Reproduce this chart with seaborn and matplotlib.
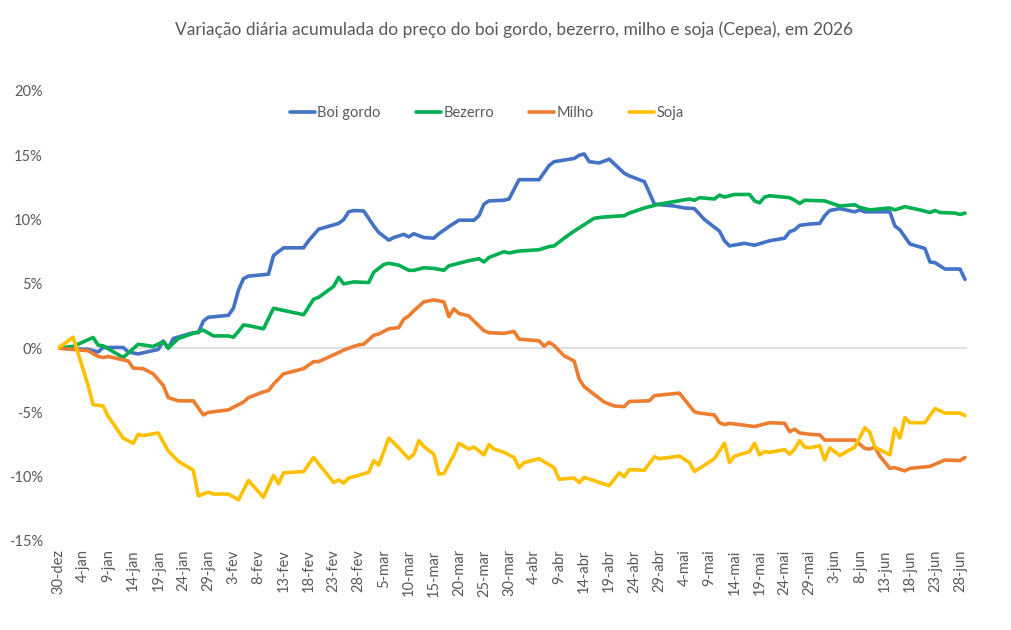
import datetime as dt

import matplotlib.pyplot as plt
import pandas as pd
import seaborn as sns

# dias contados a partir de 30-dez e variação acumulada (%)
boi_dias = [0, 6, 8, 9, 13, 14, 16, 20, 21, 22, 23, 27, 28, 29, 30, 34, 35, 36, 37, 38,
            42, 43, 45, 49, 50, 52, 56, 57, 58, 59, 61, 63, 64, 66, 67, 69, 70, 71, 73, 75,
            76, 78, 80, 83, 84, 85, 86, 89, 90, 92, 96, 98, 99, 103, 104, 105, 106, 108, 110, 113,
            114, 117, 118, 119, 123, 125, 127, 129, 131, 132, 133, 134, 137, 139, 142, 145, 146, 147, 148, 150,
            152, 153, 154, 156, 159, 160, 161, 166, 167, 168, 170, 173, 174, 175, 177, 180, 181]
boi_vals = [0, -0.1, -0.3, 0.05, 0.05, -0.3, -0.45, -0.1, 0.55, 0, 0.75, 1.2, 1.2, 2.1, 2.4, 2.55, 3.1, 4.5, 5.4, 5.6,
            5.75, 7.2, 7.8, 7.8, 8.35, 9.25, 9.7, 10.0, 10.6, 10.7, 10.67, 9.5, 9.0, 8.4, 8.6, 8.85, 8.65, 8.9, 8.6, 8.55,
            8.9, 9.45, 9.95, 9.95, 10.3, 11.2, 11.45, 11.5, 11.6, 13.1, 13.1, 14.2, 14.5, 14.75, 15.0, 15.1, 14.5, 14.4, 14.7, 13.6,
            13.4, 12.95, 12.1, 11.2, 11.05, 10.9, 10.85, 10.0, 9.4, 9.1, 8.35, 7.95, 8.15, 8.0, 8.35, 8.55, 9.05, 9.2, 9.55, 9.65,
            9.7, 10.3, 10.7, 10.85, 10.6, 10.75, 10.6, 10.6, 9.5, 9.2, 8.1, 7.75, 6.7, 6.65, 6.15, 6.15, 5.35]

bezerro_dias = [0, 3, 7, 8, 9, 13, 16, 19, 21, 22, 24, 27, 29, 31, 34, 35, 36, 37, 38, 41,
                43, 49, 51, 52, 55, 56, 57, 59, 62, 63, 65, 66, 68, 70, 71, 73, 75, 77, 78, 80,
                82, 84, 85, 86, 89, 90, 92, 96, 98, 99, 101, 103, 106, 107, 109, 113, 114, 117, 120, 123,
                126, 127, 128, 131, 132, 133, 135, 138, 139, 140, 141, 142, 146, 147, 148, 149, 153, 156, 159, 160,
                162, 166, 167, 169, 172, 174, 175, 176, 179, 180, 181]
bezerro_vals = [0, 0.13, 0.83, 0.23, 0.18, -0.73, 0.3, 0.13, 0.5, 0, 0.75, 1.15, 1.4, 0.95, 0.95, 0.85, 1.3, 1.8, 1.75, 1.5,
                3.1, 2.6, 3.8, 3.95, 4.8, 5.5, 5.0, 5.15, 5.1, 5.9, 6.5, 6.6, 6.45, 6.05, 6.05, 6.25, 6.2, 6.05, 6.4, 6.6,
                6.8, 6.95, 6.7, 7.05, 7.5, 7.4, 7.55, 7.65, 7.9, 7.95, 8.55, 9.1, 9.85, 10.1, 10.2, 10.3, 10.5, 10.9, 11.2, 11.4,
                11.6, 11.5, 11.7, 11.6, 11.9, 11.75, 11.95, 11.95, 11.45, 11.3, 11.75, 11.85, 11.7, 11.5, 11.25, 11.5, 11.45, 11.05, 11.15, 10.95,
                10.75, 10.9, 10.75, 11.0, 10.75, 10.55, 10.7, 10.55, 10.5, 10.4, 10.5]

milho_dias = [0, 6, 8, 9, 10, 14, 15, 17, 19, 21, 22, 24, 27, 29, 30, 31, 34, 37, 38, 41,
              42, 43, 45, 49, 51, 52, 56, 57, 59, 60, 61, 63, 64, 66, 68, 69, 70, 71, 73, 75,
              77, 78, 79, 80, 82, 83, 85, 86, 89, 91, 92, 96, 97, 98, 99, 101, 103, 104, 105, 107,
              109, 111, 113, 114, 118, 119, 124, 127, 128, 131, 132, 133, 134, 136, 139, 142, 145, 146, 147, 148,
              150, 152, 153, 159, 161, 162, 163, 164, 166, 167, 169, 170, 174, 177, 180, 181]
milho_vals = [0, -0.2, -0.65, -0.73, -0.65, -1.0, -1.55, -1.6, -2.0, -2.9, -3.85, -4.1, -4.1, -5.2, -5.0, -4.95, -4.8, -4.2, -3.85, -3.4,
              -3.3, -2.8, -2.0, -1.6, -1.05, -1.05, -0.35, -0.15, 0.13, 0.25, 0.3, 1.0, 1.1, 1.5, 1.6, 2.25, 2.5, 2.9, 3.6, 3.75,
              3.6, 2.45, 3.05, 2.7, 2.5, 2.1, 1.35, 1.2, 1.15, 1.3, 0.7, 0.57, 0.15, 0.45, 0.2, -0.6, -1.0, -2.4, -3.0, -3.6,
              -4.2, -4.5, -4.55, -4.15, -4.1, -3.7, -3.5, -4.95, -5.05, -5.2, -5.8, -5.95, -5.85, -5.95, -6.1, -5.8, -5.85, -6.5, -6.3, -6.6,
              -6.7, -6.75, -7.15, -7.15, -7.8, -7.85, -7.7, -8.4, -9.35, -9.3, -9.55, -9.35, -9.2, -8.7, -8.75, -8.5]

soja_dias = [0, 3, 6, 7, 9, 10, 13, 15, 16, 17, 20, 22, 24, 27, 28, 30, 31, 34, 36, 38,
             41, 43, 44, 45, 49, 51, 55, 56, 57, 58, 60, 62, 63, 64, 66, 68, 70, 71, 72, 73,
             75, 76, 77, 79, 80, 82, 83, 85, 86, 87, 89, 90, 91, 92, 93, 96, 99, 100, 103, 104,
             105, 110, 112, 113, 114, 117, 119, 120, 124, 126, 127, 131, 133, 134, 135, 138, 139, 140, 141, 142,
             145, 146, 147, 148, 149, 150, 152, 153, 154, 156, 159, 161, 162, 163, 166, 167, 168, 169, 170, 173,
             175, 177, 180, 181]
soja_vals = [0, 0.85, -2.9, -4.4, -4.5, -5.3, -7.0, -7.4, -6.7, -6.8, -6.6, -8.0, -8.8, -9.5, -11.5, -11.2, -11.35, -11.35, -11.8, -10.3,
             -11.6, -9.9, -10.55, -9.7, -9.6, -8.5, -10.45, -10.25, -10.5, -10.1, -9.9, -9.65, -8.75, -9.1, -7.0, -7.75, -8.6, -8.25, -7.2, -7.65,
             -8.25, -9.8, -9.75, -8.3, -7.4, -7.85, -7.7, -8.3, -7.5, -7.85, -8.1, -8.3, -8.5, -9.3, -8.9, -8.6, -9.3, -10.2, -10.1, -10.45,
             -10.05, -10.7, -9.7, -10.0, -9.45, -9.5, -8.45, -8.6, -8.4, -8.9, -9.6, -8.6, -7.4, -8.9, -8.4, -8.05, -7.4, -8.3, -8.05, -8.1,
             -7.9, -8.25, -7.85, -7.2, -7.7, -7.75, -7.6, -8.7, -7.75, -8.35, -7.7, -6.2, -6.55, -7.7, -8.3, -6.25, -7.0, -5.4, -5.8, -5.8,
             -4.7, -5.05, -5.05, -5.25]

series = ['Boi gordo', 'Bezerro', 'Milho', 'Soja']
cores = ['#4472C4', '#00B050', '#ED7D31', '#FFC000']
meses = ['jan', 'fev', 'mar', 'abr', 'mai', 'jun', 'jul', 'ago', 'set', 'out', 'nov', 'dez']
inicio = dt.date(2025, 12, 30)
yticks = [-15, -10, -5, 0, 5, 10, 15, 20]

frames = []
for nome, dias, vals in zip(series,
                            [boi_dias, bezerro_dias, milho_dias, soja_dias],
                            [boi_vals, bezerro_vals, milho_vals, soja_vals]):
    frames.append(pd.DataFrame({'dia': dias, 'valor': vals, 'serie': nome}))
df = pd.concat(frames, ignore_index=True)

sns.set_style('white')
plt.rcParams['font.family'] = ['Lato', 'DejaVu Sans']
texto = '#595959'

fig = plt.figure(figsize=(10.11, 6.3), dpi=100)
ax = fig.add_axes([0.0574, 0.1413, 0.8991, 0.7143])

ax.axhline(0, color='#D9D9D9', linewidth=1.2, zorder=1)
sns.lineplot(data=df, x='dia', y='valor', hue='serie', hue_order=series,
             palette=cores, linewidth=2.6, estimator=None, ax=ax, zorder=3)

ax.set_xlim(0, 181.4)
ax.set_ylim(-15, 20)
ax.set_yticks(yticks)
ax.set_yticklabels([f'{v}%' for v in yticks], color=texto, fontsize=10.5)

xt = list(range(0, 181, 5))
labels = []
for d in xt:
    data = inicio + dt.timedelta(days=d)
    labels.append(f'{data.day}-{meses[data.month - 1]}')
ax.set_xticks(xt)
ax.set_xticklabels(labels, rotation=90, color=texto, fontsize=10.5)
ax.tick_params(axis='y', length=0, pad=11)
ax.tick_params(axis='x', length=0, pad=6)
ax.set_xlabel('')
ax.set_ylabel('')
sns.despine(ax=ax, left=True, bottom=True)

leg = ax.legend(loc='center', bbox_to_anchor=(487 / 1011, 1 - 113 / 630),
                bbox_transform=fig.transFigure, ncol=4, frameon=False,
                fontsize=10.5, handlelength=1.7, handletextpad=0.2, columnspacing=2.4)
for t in leg.get_texts():
    t.set_color(texto)

fig.text(514 / 1011, 1 - 30 / 630,
         'Variação diária acumulada do preço do boi gordo, bezerro, milho e soja (Cepea), em 2026',
         ha='center', va='center', fontsize=12.5, color=texto)

fig.savefig('out.png', dpi=100)
